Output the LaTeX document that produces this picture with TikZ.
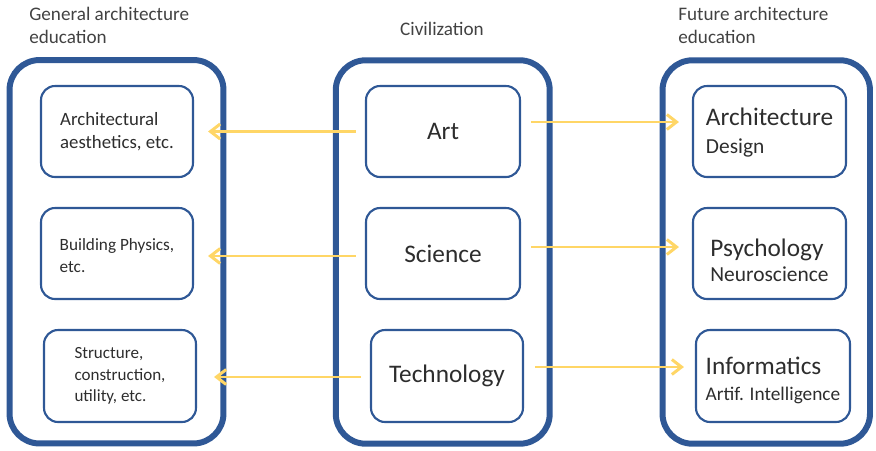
\documentclass[tikz,border=0pt]{standalone}
\usepackage{fontspec}
\setmainfont{Carlito}
\usetikzlibrary{positioning, calc, arrows.meta}
\definecolor{boxblue}{RGB}{47,88,150}
\definecolor{arrowyellow}{RGB}{255,214,102}
\definecolor{txtgray}{RGB}{45,45,45}
\newcommand{\bigfont}{\fontsize{14.4}{17}\selectfont}
\newcommand{\subfont}{\fontsize{12.2}{14.5}\selectfont}

\begin{document}
\begin{tikzpicture}[x=0.02cm, y=-0.02cm,
            column/.style={rectangle, rounded corners=0.6cm, draw=boxblue, line width=3.4pt, minimum width=4.28cm, minimum height=7.67cm},
            item/.style={rectangle, rounded corners=0.28cm, draw=boxblue, line width=1.2pt, minimum width=3.04cm, minimum height=1.82cm, align=left, text=txtgray},
            heading/.style={font=\fontsize{10.9}{13.2}\selectfont, text=txtgray!90, align=left, inner sep=0pt},
            arr/.style={-{Straight Barb[length=5.5pt, width=8.5pt]}, line width=1.7pt, arrowyellow}
        ]
            \useasboundingbox (0,0) rectangle (876,450);

            \node[column] (general) at (116.5,251.75) {};
            \node[column] (civil) at (442.75,252) {};
            \node[column, minimum width=4.15cm] (future) at (766.25,252) {};

            \node[heading, anchor=north west] (gentitle) at (29,7) {General architecture\\education};
            \node[heading, anchor=base] (civtitle) at (442,35) {Civilization};
            \node[heading, anchor=north west] (futtitle) at (678,7) {Future architecture\\education};

            \node[item, font=\fontsize{10.7}{13}\selectfont] (aesth) at (117,131.5) {Architectural\\aesthetics, etc.};
            \node[item, font=\fontsize{9.8}{12.5}\selectfont] (physics) at (117,253.5) {\rule{0pt}{9.5pt}Building Physics,\\etc.};
            \node[item, font=\fontsize{9.7}{12.3}\selectfont, minimum height=1.84cm] (struct) at (120,376) {Structure,\\construction,\\utility, etc.};

            \node[item, font=\bigfont, minimum width=3.08cm] (art) at (443,131.5) {Art};
            \node[item, font=\bigfont, minimum width=3.08cm] (science) at (443,253.5) {Science};
            \node[item, font=\bigfont, minimum height=1.84cm] (tech) at (447,376) {Technology};

            \node[item, font=\bigfont, minimum width=3.06cm] (archi) at (769.5,131.5) {\rule{0pt}{11.5pt}Architecture\\[-1pt]\subfont Design};
            \node[item, font=\bigfont, minimum width=3.06cm] (psych) at (769.5,253.5) {\rule{0pt}{17.5pt}Psychology\\[-3pt]\subfont Neuroscience};
            \node[item, font=\bigfont, minimum width=3.08cm, minimum height=1.84cm] (info) at (773,376) {\rule{0pt}{14.8pt}Informatics\\[-2pt]\fontsize{11}{14}\selectfont Artif. Intelligence};

            \draw[arr] ($(art.west)+(-9,0)$) -- ($(aesth.east)+(14,0)$);
            \draw[arr] ($(science.west)+(-9,2.5)$) -- ($(physics.east)+(14,2.5)$);
            \draw[arr] ($(tech.west)+(-9,1)$) -- ($(struct.east)+(17,1)$);

            \draw[arr] ($(art.east)+(10,-9.5)$) -- ($(archi.west)+(-13,-9.5)$);
            \draw[arr] ($(science.east)+(10,-6.5)$) -- ($(psych.west)+(-13,-6.5)$);
            \draw[arr] ($(tech.east)+(11,-9)$) -- ($(info.west)+(-11,-9)$);
        \end{tikzpicture}
\end{document}
